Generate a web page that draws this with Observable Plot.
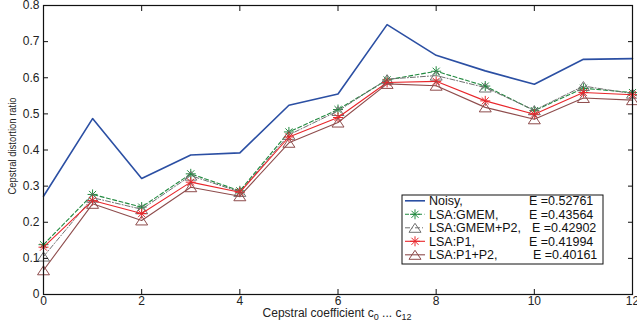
<!DOCTYPE html>
<html><head><meta charset="utf-8">
<script src="https://cdn.jsdelivr.net/npm/d3@7"></script>
<script src="https://cdn.jsdelivr.net/npm/@observablehq/plot@0.6"></script>
<style>
html,body{margin:0;padding:0;background:#fff;}
#chart{width:637px;height:326px;}
svg{font-family:"Liberation Sans",Arial,Helvetica,sans-serif;overflow:visible;}
</style></head><body><div id="chart"></div>
<script>
// ---- data ----
const coeffs = [0,1,2,3,4,5,6,7,8,9,10,11,12];
const noisy  = [0.272,0.487,0.321,0.386,0.392,0.524,0.555,0.747,0.662,0.619,0.582,0.651,0.653];
const gmem   = [0.138,0.277,0.242,0.334,0.287,0.450,0.512,0.594,0.618,0.577,0.509,0.571,0.559];
const gmemP2 = [0.105,0.268,0.236,0.329,0.284,0.442,0.508,0.596,0.606,0.573,0.510,0.577,0.556];
const p1     = [0.131,0.260,0.224,0.311,0.283,0.436,0.490,0.587,0.590,0.536,0.499,0.559,0.553];
const p1p2   = [0.067,0.251,0.205,0.297,0.272,0.420,0.476,0.583,0.578,0.518,0.485,0.544,0.538];
const xTicks = [0,2,4,6,8,10,12];
const yTicks = [0,0.1,0.2,0.3,0.4,0.5,0.6,0.7,0.8];
const yTickLabels = ["0","0.1","0.2","0.3","0.4","0.5","0.6","0.7","0.8"];
const seriesNames = ["Noisy,","LSA:GMEM,","LSA:GMEM+P2,","LSA:P1,","LSA:P1+P2,"];
const eLabels = ["E =0.52761","E =0.43564","E =0.42902","E =0.41994","E =0.40161"];
const seriesValues = [noisy, gmem, gmemP2, p1, p1p2];

// ---- marker symbols (MATLAB-like) ----
const star = { draw(ctx, size) {
  const r = Math.sqrt(size/Math.PI);
  for (let k = 0; k < 4; k++) {
    const a = k*Math.PI/4, dx = r*Math.cos(a), dy = r*Math.sin(a);
    ctx.moveTo(-dx,-dy); ctx.lineTo(dx,dy);
  }
}};
const tri = { draw(ctx, size) {
  const r = Math.sqrt(size/Math.PI);
  ctx.moveTo(0,-0.9*r); ctx.lineTo(1.2*r,0.9*r); ctx.lineTo(-1.2*r,0.9*r); ctx.closePath();
}};

const styles = [
  {stroke:"#2b4fa3", width:1.6, dash:null, symbol:null},
  {stroke:"#21893f", width:1.1, dash:"4,2.5", symbol:star},
  {stroke:"#707070", width:1.0, dash:"5,2,1,2", symbol:tri},
  {stroke:"#e8262b", width:1.1, dash:null, symbol:star},
  {stroke:"#8e4c4c", width:1.1, dash:null, symbol:tri}
];

const rows = seriesNames.flatMap((s,i) => coeffs.map((c,j) => ({series:s, x:c, y:seriesValues[i][j]})));

const marks = [];
seriesNames.forEach((s,i) => {
  const st = styles[i];
  const d = rows.filter(r => r.series === s);
  marks.push(Plot.line(d, {x:"x", y:"y", stroke:st.stroke, strokeWidth:st.width, strokeDasharray:st.dash}));
  if (st.symbol) marks.push(Plot.dot(d, {x:"x", y:"y", symbol:st.symbol, r:5, stroke:st.stroke, fill:"none", strokeWidth:1}));
});

const chart = Plot.plot({
  width:637, height:326,
  marginLeft:43, marginRight:5, marginTop:5, marginBottom:32,
  style:{fontFamily:'"Liberation Sans",Arial,Helvetica,sans-serif', fontSize:"12px", background:"#fff", color:"#222", overflow:"visible"},
  x:{domain:[0,12]},
  y:{domain:[0,0.8]},
  marks:[
    ...marks,
    Plot.frame({stroke:"#111", strokeWidth:1.2}),
    Plot.axisX(xTicks, {anchor:"bottom", tickSize:0, tickPadding:2, label:null, fontSize:12, fill:"#222"}),
    Plot.axisY(yTicks, {anchor:"left", tickSize:0, tickPadding:4, label:null, fontSize:12, fill:"#222",
      tickFormat:(d) => yTickLabels[yTicks.indexOf(d)]}),
    Plot.axisX(xTicks, {anchor:"bottom", tickSize:-5, fill:"none", label:null, stroke:"#111"}),
    Plot.axisX(xTicks, {anchor:"top", tickSize:-5, fill:"none", label:null, stroke:"#111"}),
    Plot.axisY(yTicks, {anchor:"left", tickSize:-5, fill:"none", label:null, stroke:"#111"}),
    Plot.axisY(yTicks, {anchor:"right", tickSize:-5, fill:"none", label:null, stroke:"#111"})
  ]
});
document.getElementById("chart").appendChild(chart);

// ---- axis titles ----
const svg = d3.select(chart);
svg.append("text")
  .attr("transform","translate(16,146) rotate(-90)")
  .attr("text-anchor","middle").attr("font-size",11).attr("fill","#222")
  .attr("textLength",97).attr("lengthAdjust","spacingAndGlyphs")
  .text("Cepstral distortion ratio");
const xl = svg.append("text").attr("x",337).attr("y",317).attr("text-anchor","middle")
  .attr("font-size",12).attr("fill","#222");
xl.append("tspan").text("Cepstral coefficient c");
xl.append("tspan").attr("dy",3).attr("font-size",9).text("0");
xl.append("tspan").attr("dy",-3).text(" ... c");
xl.append("tspan").attr("dy",3).attr("font-size",9).text("12");

// ---- legend ----
const lg = svg.append("g").attr("text-anchor","start");
lg.append("rect").attr("x",402).attr("y",195).attr("width",201).attr("height",69)
  .attr("fill","#fff").attr("stroke","#111").attr("stroke-width",1);
const eX = [529,529,532,529,533];
seriesNames.forEach((s,i) => {
  const st = styles[i], cy = 200.8 + i*13.5;
  lg.append("line").attr("x1",405).attr("x2",425).attr("y1",cy).attr("y2",cy)
    .attr("stroke",st.stroke).attr("stroke-width",st.width).attr("stroke-dasharray",st.dash);
  if (st.symbol) lg.append("path").attr("transform",`translate(415,${cy})`)
    .attr("d", d3.symbol(st.symbol, Math.PI*25)()).attr("fill","none").attr("stroke",st.stroke);
  lg.append("text").attr("x",429).attr("y",cy+4.4).attr("font-size",12.5).attr("fill","#111").attr("text-anchor","start").text(s);
  lg.append("text").attr("x",eX[i]).attr("y",cy+4.4).attr("font-size",12.5).attr("fill","#111").attr("text-anchor","start").text(eLabels[i]);
});
</script></body></html>
